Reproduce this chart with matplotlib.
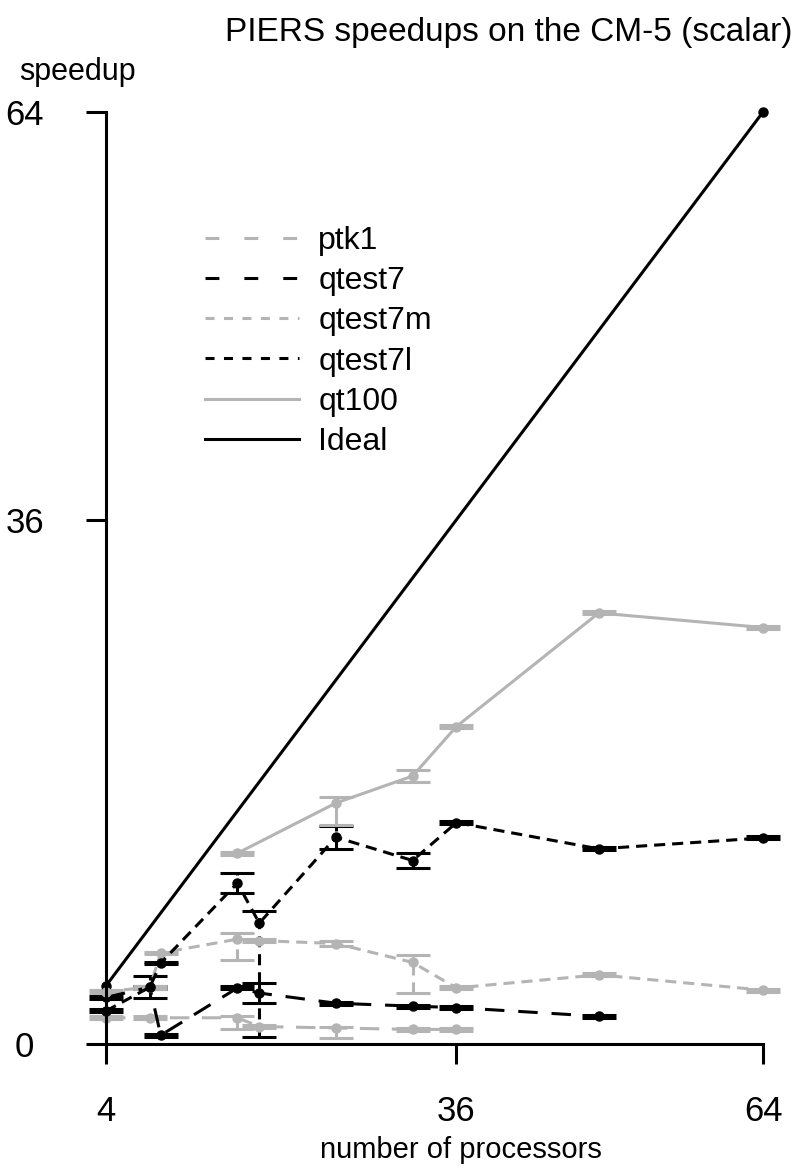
import matplotlib
matplotlib.use('Agg')
import matplotlib.pyplot as plt
from matplotlib.lines import Line2D

plt.rcParams['font.family'] = ['Liberation Sans', 'DejaVu Sans']
plt.rcParams['lines.scale_dashes'] = False

GRAY = '#b4b4b4'

# data
ptk1_x = [4, 8, 16, 18, 25, 32, 36]
ptk1_y = [1.8, 1.8, 1.8, 1.2, 1.1, 1.0, 1.0]
ptk1_lo = [0.1, 0.1, 0.8, 0.1, 0.7, 0.1, 0.1]
ptk1_hi = [0.1, 0.1, 0.1, 0.1, 0.1, 0.1, 0.1]

qtest7_x = [4, 8, 9, 16, 18, 25, 32, 36, 49]
qtest7_y = [3.2, 3.9, 0.6, 3.85, 3.5, 2.8, 2.6, 2.5, 1.9]
qtest7_lo = [0.1, 0.1, 0.1, 0.1, 0.7, 0.1, 0.1, 0.1, 0.1]
qtest7_hi = [0.1, 0.1, 0.1, 0.1, 0.7, 0.1, 0.1, 0.1, 0.1]

qtest7m_x = [4, 8, 9, 16, 18, 25, 32, 36, 49, 64]
qtest7m_y = [3.6, 3.9, 6.25, 7.2, 7.1, 6.9, 5.6, 3.85, 4.75, 3.7]
qtest7m_lo = [0.1, 0.1, 0.1, 1.4, 0.1, 0.2, 2.1, 0.1, 0.1, 0.1]
qtest7m_hi = [0.1, 0.1, 0.1, 0.4, 0.1, 0.2, 0.5, 0.1, 0.1, 0.1]

qtest7l_x = [4, 8, 9, 16, 18, 25, 32, 36, 49, 64]
qtest7l_y = [2.27, 3.9, 5.56, 11.05, 8.3, 14.2, 12.6, 15.2, 13.4, 14.15]
qtest7l_lo = [0.1, 0.75, 0.1, 0.7, 7.8, 0.8, 0.5, 0.1, 0.1, 0.1]
qtest7l_hi = [0.1, 0.75, 0.1, 0.7, 0.8, 0.8, 0.5, 0.1, 0.1, 0.1]

qt100_x = [16, 25, 32, 36, 49, 64]
qt100_y = [13.1, 16.55, 18.4, 21.8, 29.6, 28.6]
qt100_lo = [0.1, 1.5, 0.4, 0.1, 0.1, 0.1]
qt100_hi = [0.1, 0.4, 0.4, 0.1, 0.1, 0.1]

ideal_x = [4, 64]
ideal_y = [4, 64]

names = ['ptk1', 'qtest7', 'qtest7m', 'qtest7l', 'qt100', 'Ideal']
colors = [GRAY, 'black', GRAY, 'black', GRAY, 'black']
dashes = [(0, (14, 9)), (0, (14, 10)), (0, (8, 5)), (0, (8, 5)), '-', '-']
leg_dashes = [(0, (10, 18)), (0, (10, 18)), (0, (6.5, 6.8)), (0, (6.5, 6.8)), '-', '-']

LW = 2.2

fig = plt.figure(figsize=(7.96, 11.71), dpi=100)
ax = fig.add_axes([106 / 796, 1 - 1044 / 1171, 657 / 796, 932 / 1171])

series = [
    (ptk1_x, ptk1_y, ptk1_lo, ptk1_hi),
    (qtest7_x, qtest7_y, qtest7_lo, qtest7_hi),
    (qtest7m_x, qtest7m_y, qtest7m_lo, qtest7m_hi),
    (qtest7l_x, qtest7l_y, qtest7l_lo, qtest7l_hi),
    (qt100_x, qt100_y, qt100_lo, qt100_hi),
]

for (x, y, lo, hi), c, ls in zip(series, colors, dashes):
    line, caps, bars = ax.errorbar(x, y, yerr=[lo, hi], color=c, lw=LW,
                                   linestyle=ls, marker='o', ms=6.5,
                                   capsize=12, capthick=LW, elinewidth=LW,
                                   clip_on=False)
    for b in bars:
        b.set_linestyle(ls)
        b.set_clip_on(False)
    for cp in caps:
        cp.set_clip_on(False)

ax.plot(ideal_x, ideal_y, color='black', lw=LW, marker='o', ms=6.5, clip_on=False)

ax.set_xlim(4, 64)
ax.set_ylim(0, 64)
ax.set_xticks([4, 36, 64])
ax.set_yticks([0, 36, 64])
for s in ['top', 'right']:
    ax.spines[s].set_visible(False)
for s in ['left', 'bottom']:
    ax.spines[s].set_linewidth(LW)
ax.tick_params(axis='both', direction='out', length=14.5, width=LW, labelsize=25)
ax.tick_params(axis='y', pad=44)
ax.tick_params(axis='x', pad=22)
for t in ax.get_yticklabels():
    t.set_horizontalalignment('center')

handles = [Line2D([], [], color=c, lw=LW, linestyle=ls) for c, ls in zip(colors, leg_dashes)]
fig.legend(handles, names, loc='upper left', bbox_to_anchor=(205 / 796, 1 - 226 / 1171),
           frameon=False, fontsize=23, handlelength=2.95, handletextpad=0.6,
           labelspacing=0.32, borderpad=0, borderaxespad=0)

fig.text(509 / 796, 1 - 33 / 1171, 'PIERS speedups on the CM-5 (scalar)',
         ha='center', va='center', fontsize=24)
fig.text(77 / 796, 1 - 72 / 1171, 'speedup', ha='center', va='center', fontsize=22)
fig.text(461 / 796, 1 - 1150 / 1171, 'number of processors',
         ha='center', va='center', fontsize=21)

fig.savefig('out.png', dpi=100)
